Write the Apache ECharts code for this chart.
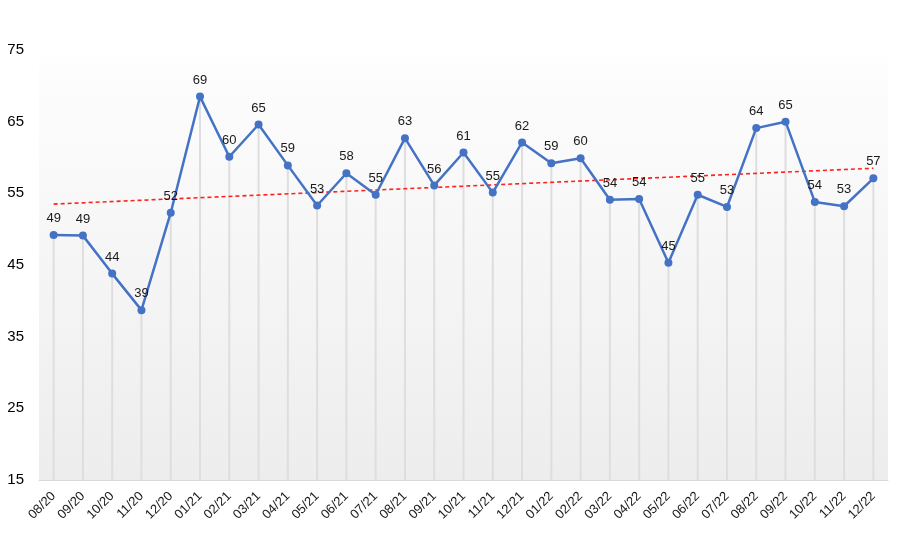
<!DOCTYPE html>
<html>
<head>
<meta charset="utf-8">
<script src="https://cdn.jsdelivr.net/npm/echarts@6/dist/echarts.min.js"></script>
<style>html,body{margin:0;padding:0;background:#fff}#c{width:900px;height:539px}</style>
</head>
<body>
<div id="c"></div>
<script>
const categories = ['08/20','09/20','10/20','11/20','12/20','01/21','02/21','03/21','04/21','05/21','06/21','07/21','08/21','09/21','10/21','11/21','12/21','01/22','02/22','03/22','04/22','05/22','06/22','07/22','08/22','09/22','10/22','11/22','12/22'];
const values = [49.2,49.1,43.8,38.7,52.3,68.5,60.1,64.6,58.9,53.3,57.8,54.8,62.7,56.1,60.7,55.1,62.1,59.2,59.9,54.1,54.2,45.3,54.8,53.1,64.1,65.0,53.8,53.2,57.1];
const trendStart = 53.5;
const trendEnd = 58.5;
const yTicks = [15,25,35,45,55,65,75];

const trendData = categories.map((c,i)=> i===0 ? trendStart : (i===categories.length-1 ? trendEnd : null));

const chart = echarts.init(document.getElementById('c'), null, {renderer:'canvas'});
chart.setOption({
  animation:false,
  grid:{left:39, right:12, top:50, bottom:59, show:true, borderWidth:0,
    backgroundColor: new echarts.graphic.LinearGradient(0,0,0,1,[{offset:0,color:'#ffffff'},{offset:0.045,color:'#fdfdfd'},{offset:1,color:'#ededed'}])},
  xAxis:{type:'category', data:categories, boundaryGap:true,
    axisLine:{show:true, lineStyle:{color:'#d9d9d9', width:1}},
    axisTick:{show:false},
    axisLabel:{rotate:45, color:'#1a1a1a', fontFamily:'Liberation Sans, Arial', fontSize:13, margin:14, interval:0},
    splitLine:{show:false}},
  yAxis:{type:'value', min:yTicks[0], max:yTicks[yTicks.length-1], interval:10,
    axisLine:{show:false}, axisTick:{show:false}, splitLine:{show:false},
    axisLabel:{color:'#000', fontFamily:'Liberation Sans, Arial', fontSize:15, margin:15}},
  series:[
    {type:'bar', data:values, barWidth:2, itemStyle:{color:'#dedede'}, silent:true, z:1},
    {type:'line', data:trendData, connectNulls:true, symbol:'none',
      lineStyle:{color:'#ff2020', width:1.6, type:[4,3]}, z:2},
    {type:'line', data:values, symbol:'circle', symbolSize:8,
      lineStyle:{color:'#4472c4', width:2.5}, itemStyle:{color:'#4472c4'},
      label:{show:true, position:'top', distance:6, color:'#1a1a1a', fontFamily:'Liberation Sans, Arial', fontSize:13,
        formatter:p=>Math.round(p.value)}, z:3}
  ]
});
</script>
</body>
</html>
